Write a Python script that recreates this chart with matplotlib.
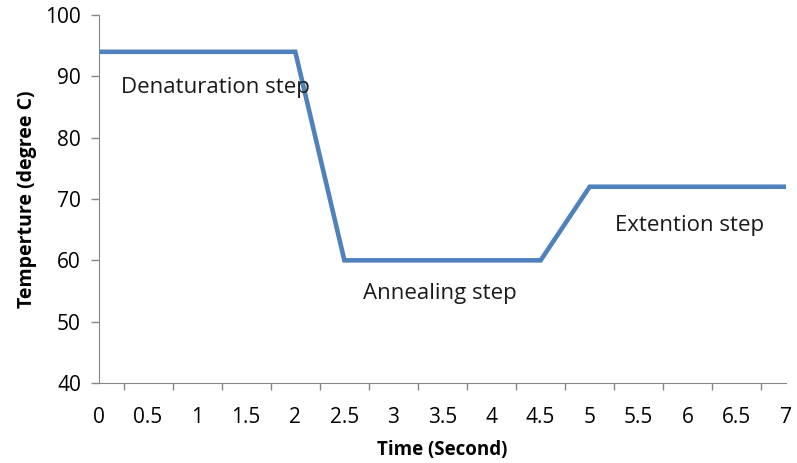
import numpy as np
import matplotlib.pyplot as plt
from matplotlib.ticker import FixedLocator

# Datos del perfil de temperatura
tiempo = [0, 2, 2.5, 4.5, 5, 7]
temperatura = [94, 94, 60, 60, 72, 72]
etiquetas_x = ['0', '0.5', '1', '1.5', '2', '2.5', '3', '3.5', '4', '4.5', '5', '5.5', '6', '6.5', '7']
pasos = ['Denaturation step', 'Annealing step', 'Extention step']
pos_pasos = [(0.22, 88.2), (2.69, 54.6), (5.26, 65.7)]

plt.rcParams['font.family'] = ['Open Sans', 'DejaVu Sans']

fig = plt.figure(figsize=(7.97, 4.63), dpi=100)
ax = fig.add_axes([99 / 797, 1 - 383 / 463, (786 - 99) / 797, (383 - 15) / 463])

ax.plot(tiempo, temperatura, color='#4F81BD', linewidth=3.3, solid_joinstyle='miter')

for texto, (x, y) in zip(pasos, pos_pasos):
    ax.text(x, y, texto, fontsize=16, ha='left', va='center', color='#1a1a1a')

ax.set_xlim(0, 7)
ax.set_ylim(40, 100)
ax.set_xticks(np.arange(0, 7.01, 0.5))
ax.set_xticklabels(etiquetas_x)
ax.xaxis.set_minor_locator(FixedLocator(np.arange(0.25, 7, 0.5)))
ax.tick_params(axis='x', which='major', length=0, pad=17, labelsize=15)
ax.tick_params(axis='x', which='minor', length=5, color='#868686', width=1)
ax.set_yticks(range(40, 101, 10))
ax.tick_params(axis='y', length=6, color='#868686', width=1, labelsize=15, pad=7)

for lado in ['top', 'right']:
    ax.spines[lado].set_visible(False)
for lado in ['left', 'bottom']:
    ax.spines[lado].set_color('#868686')

ax.set_xlabel('Time (Second)', fontsize=13.5, fontweight='bold', labelpad=9)
ax.set_ylabel('Temperture (degree C)', fontsize=14, fontweight='bold', labelpad=6)

fig.savefig('out.png', dpi=100)
